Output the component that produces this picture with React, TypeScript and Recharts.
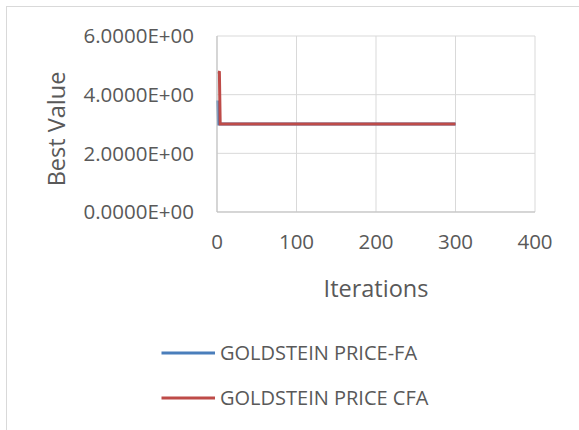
import React from 'react';
import { LineChart, Line, XAxis, YAxis, CartesianGrid } from 'recharts';

const iterations = [1, 2, 3, 4, 5, 10, 50, 100, 150, 200, 250, 300];
const faValues = [3.8, 3.0, 3.0, 3.0, 3.0, 3.0, 3.0, 3.0, 3.0, 3.0, 3.0, 3.0];
const cfaValues = [4.78, 4.77, 4.76, 3.0, 3.0, 3.0, 3.0, 3.0, 3.0, 3.0, 3.0, 3.0];
const xTicks = [0, 100, 200, 300, 400];
const yTicks = [0, 2, 4, 6];
const seriesNames = ['GOLDSTEIN PRICE-FA', 'GOLDSTEIN PRICE CFA'];
const seriesColors = ['#4A7EBB', '#BE4B48'];

const data = iterations.map((it, i) => ({ it, fa: faValues[i], cfa: cfaValues[i] }));

const FONT = '"Open Sans", sans-serif';
const TXT = '#595959';

const fmtY = (v: number) => {
  const s = v.toExponential(4).toUpperCase();
  const m = s.match(/^(.*)E([+-])(\d+)$/);
  if (!m) return s;
  return `${m[1]}E${m[2]}${m[3].padStart(2, '0')}`;
};

export default function App() {
  return (
    <div style={{ position: 'absolute', left: 0, top: 0, width: 579, height: 430, overflow: 'hidden', background: '#fff' }}>
      <div style={{ position: 'absolute', left: 6, top: 6, width: 640, height: 480, border: '1px solid #d9d9d9' }} />
      <div style={{ position: 'absolute', left: 0, top: 0 }}>
        <LineChart width={579} height={430} data={data} margin={{ top: 36, right: 44, left: 0, bottom: 0 }}>
          <CartesianGrid stroke="#d9d9d9" strokeWidth={1} vertical={true} horizontal={true} />
          <XAxis
            dataKey="it"
            type="number"
            domain={[0, 400]}
            ticks={xTicks}
            height={218}
            tickLine={false}
            axisLine={{ stroke: '#bfbfbf' }}
            tick={{ fill: TXT, fontFamily: FONT, fontSize: 20.5 }}
            tickMargin={16}
            label={(p: any) => {
              const vb = p.viewBox;
              return (
                <text x={vb.x + vb.width / 2} y={vb.y + 76} textAnchor="middle" dominantBaseline="central" fill={TXT} fontFamily={FONT} fontSize={23.5}>
                  Iterations
                </text>
              );
            }}
          />
          <YAxis
            type="number"
            domain={[0, 6]}
            ticks={yTicks}
            width={217}
            tickLine={false}
            axisLine={{ stroke: '#bfbfbf' }}
            tickFormatter={fmtY}
            tick={{ fill: TXT, fontFamily: FONT, fontSize: 20.5 }}
            tickMargin={17}
            label={(p: any) => {
              const vb = p.viewBox;
              const cx = vb.x + 56;
              const cy = vb.y + vb.height / 2 + 5;
              return (
                <text x={cx} y={cy} transform={`rotate(-90 ${cx} ${cy})`} textAnchor="middle" dominantBaseline="central" fill={TXT} fontFamily={FONT} fontSize={23.5}>
                  Best Value
                </text>
              );
            }}
          />
          <Line type="linear" dataKey="fa" name={seriesNames[0]} stroke={seriesColors[0]} strokeWidth={3} dot={false} isAnimationActive={false} />
          <Line type="linear" dataKey="cfa" name={seriesNames[1]} stroke={seriesColors[1]} strokeWidth={3} dot={false} isAnimationActive={false} />
        </LineChart>
      </div>
      {seriesNames.map((n, i) => (
        <div key={n} style={{ position: 'absolute', left: 0, top: 330 + i * 45, width: 579, height: 45, fontFamily: FONT, fontSize: 20, color: TXT }}>
          <svg width={60} height={10} style={{ position: 'absolute', left: 158, top: 18 }}>
            <line x1={3.5} y1={5} x2={57} y2={5} stroke={seriesColors[i]} strokeWidth={3} />
          </svg>
          <span style={{ position: 'absolute', left: 220, top: 8, lineHeight: '30px', whiteSpace: 'nowrap' }}>{n}</span>
        </div>
      ))}
    </div>
  );
}
